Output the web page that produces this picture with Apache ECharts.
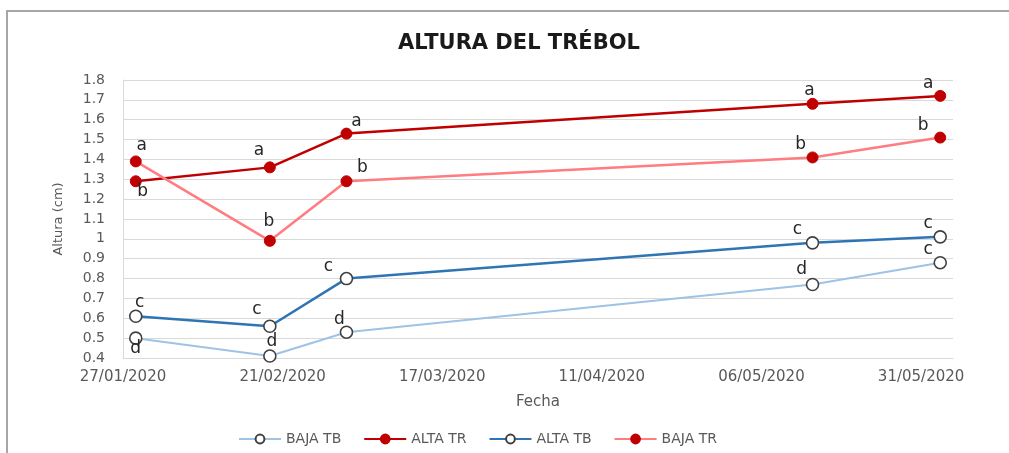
<!DOCTYPE html>
<html lang="es">
<head>
    <meta charset="utf-8">
    <title>Altura del trébol</title>
    <script src="https://cdn.jsdelivr.net/npm/echarts@6/dist/echarts.min.js"></script>
    <style>
        html, body { margin: 0; padding: 0; background: #fff; }
        #chart { width: 1009px; height: 453px; }
    </style>
</head>
<body>
    <div id="chart"></div>

    <script>
        // datos
        const fechas = ['2020-01-29', '2020-02-19', '2020-03-02', '2020-05-14', '2020-06-03'];
        const bajaTB = [0.50, 0.41, 0.53, 0.77, 0.88];
        const altaTR = [1.29, 1.36, 1.53, 1.68, 1.72];
        const altaTB = [0.61, 0.56, 0.80, 0.98, 1.01];
        const bajaTR = [1.39, 0.99, 1.29, 1.41, 1.51];

        // letras de significancia
        const letrasBajaTB = ['d', 'd', 'd', 'd', 'c'];
        const letrasAltaTR = ['b', 'a', 'a', 'a', 'a'];
        const letrasAltaTB = ['c', 'c', 'c', 'c', 'c'];
        const letrasBajaTR = ['a', 'b', 'b', 'b', 'b'];

        // desplazamiento de cada letra respecto al punto (solo estilo)
        const offBajaTB = [[0, 10], [2, -14], [-7, -13], [-11, -15], [-12, -13]];
        const offAltaTR = [[7, 10], [-11, -17], [10, -12], [-3, -13], [-12, -12]];
        const offAltaTB = [[4, -14], [-13, -17], [-18, -12], [-15, -13], [-12, -13]];
        const offBajaTR = [[6, -16], [-1, -19], [16, -14], [-12, -13], [-17, -12]];

        const origen = Date.UTC(2020, 0, 27);
        const DIA = 864e5;
        const dia = f => Math.round((Date.parse(f) - origen) / DIA);
        const dd = n => (n < 10 ? '0' : '') + n;
        const fmtFecha = v => {
            const d = new Date(origen + v * DIA);
            return dd(d.getUTCDate()) + '/' + dd(d.getUTCMonth() + 1) + '/' + d.getUTCFullYear();
        };

        const FUENTE = 'DejaVu Sans';
        const GRIS = '#595959';

        function serie(nombre, valores, letras, offs, color, ancho, marcador) {
            const hueco = marcador === 'hueco';
            return {
                name: nombre,
                type: 'line',
                symbol: 'circle',
                symbolSize: hueco ? 12 : 11,
                lineStyle: { color: color, width: ancho },
                itemStyle: hueco
                    ? { color: '#ffffff', borderColor: '#404040', borderWidth: 1.6 }
                    : { color: '#C00000', borderColor: '#C00000', borderWidth: 1 },
                data: fechas.map((f, i) => ({
                    value: [dia(f), valores[i]],
                    label: {
                        show: true,
                        position: 'inside',
                        formatter: letras[i],
                        offset: offs[i],
                        color: '#262626',
                        fontFamily: FUENTE,
                        fontSize: 17
                    }
                })),
                emphasis: { disabled: true },
                z: 3
            };
        }

        const chart = echarts.init(document.getElementById('chart'), null, { renderer: 'canvas' });

        const option = {
            animation: false,
            backgroundColor: '#ffffff',
            title: {
                text: 'ALTURA DEL TRÉBOL',
                left: 514,
                textAlign: 'center',
                top: 28,
                textStyle: { fontFamily: FUENTE, fontSize: 21, fontWeight: 'bold', color: '#1a1a1a' }
            },
            graphic: [
                { type: 'line', shape: { x1: 6, y1: 11, x2: 1009, y2: 11 }, style: { stroke: '#a6a6a6', lineWidth: 2 } },
                { type: 'line', shape: { x1: 7, y1: 10, x2: 7, y2: 453 }, style: { stroke: '#a6a6a6', lineWidth: 2 } }
            ],
            legend: {
                data: ['BAJA TB', 'ALTA TR', 'ALTA TB', 'BAJA TR'],
                left: 233,
                top: 427,
                itemWidth: 42,
                itemHeight: 11,
                itemGap: 22,
                textStyle: { fontFamily: FUENTE, fontSize: 14, color: GRIS }
            },
            grid: { left: 123, right: 56, top: 80, bottom: 95 },
            xAxis: {
                type: 'value',
                min: 0,
                max: 130,
                interval: 25,
                name: 'Fecha',
                nameLocation: 'middle',
                nameGap: 37,
                nameTextStyle: { fontFamily: FUENTE, fontSize: 15, color: GRIS },
                axisLine: { show: true, lineStyle: { color: '#d9d9d9', width: 1 } },
                axisTick: { show: false },
                splitLine: { show: false },
                axisLabel: {
                    margin: 12,
                    fontFamily: FUENTE,
                    fontSize: 15,
                    color: GRIS,
                    formatter: v => (v % 25 === 0 ? fmtFecha(v) : '')
                }
            },
            yAxis: {
                type: 'value',
                min: 0.4,
                max: 1.8,
                interval: 0.1,
                name: 'Altura (cm)',
                nameLocation: 'middle',
                nameGap: 58,
                nameTextStyle: { fontFamily: FUENTE, fontSize: 13, color: GRIS },
                axisLine: { show: true, lineStyle: { color: '#d9d9d9', width: 1 } },
                axisTick: { show: false },
                splitLine: { lineStyle: { color: '#d9d9d9', width: 1 } },
                axisLabel: {
                    margin: 18,
                    fontFamily: FUENTE,
                    fontSize: 14,
                    color: GRIS,
                    formatter: v => String(Math.round(v * 10) / 10)
                }
            },
            series: [
                serie('BAJA TB', bajaTB, letrasBajaTB, offBajaTB, '#9DC3E6', 2, 'hueco'),
                serie('ALTA TR', altaTR, letrasAltaTR, offAltaTR, '#C00000', 2.5, 'lleno'),
                serie('ALTA TB', altaTB, letrasAltaTB, offAltaTB, '#2E75B6', 2.5, 'hueco'),
                serie('BAJA TR', bajaTR, letrasBajaTR, offBajaTR, '#FF7C80', 2.5, 'lleno')
            ]
        };

        chart.setOption(option);
    </script>
</body>
</html>
